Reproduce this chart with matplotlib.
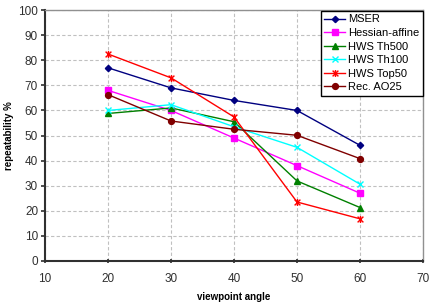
import numpy as np
import matplotlib
matplotlib.use('Agg')
import matplotlib.pyplot as plt
from matplotlib.path import Path

plt.rcParams['font.family'] = ['Liberation Sans', 'DejaVu Sans']

# viewpoint angles and repeatability per detector
angles = [20, 30, 40, 50, 60]
mser = [77.0, 69.0, 64.0, 60.0, 46.1]
hessian = [68.0, 60.0, 49.0, 38.0, 27.0]
hws_th500 = [58.8, 61.0, 55.5, 31.9, 21.3]
hws_th100 = [60.0, 62.3, 53.5, 45.3, 30.6]
hws_top50 = [82.5, 73.0, 57.4, 23.5, 16.8]
rec_ao25 = [66.3, 55.8, 52.5, 50.1, 40.8]

names = ['MSER', 'Hessian-affine', 'HWS Th500', 'HWS Th100', 'HWS Top50', 'Rec. AO25']
colors = ['#000080', '#ff00ff', '#008000', '#00ffff', '#ff0000', '#800000']

# excel-style star: x with a vertical bar
star = Path([(-1, -1), (1, 1), (-1, 1), (1, -1), (0, -1.2), (0, 1.2)],
            [Path.MOVETO, Path.LINETO, Path.MOVETO, Path.LINETO, Path.MOVETO, Path.LINETO])
markers = ['D', 's', '^', 'x', star, 'o']
msizes = [3.2, 4.2, 4.2, 4.5, 5, 4.2]

fig = plt.figure(figsize=(4.29, 3.07), dpi=100)
ax = fig.add_axes([0.105, 0.150, 0.881, 0.817])

series = [mser, hessian, hws_th500, hws_th100, hws_top50, rec_ao25]
for vals, name, c, m, ms in zip(series, names, colors, markers, msizes):
    ax.plot(angles, vals, color=c, marker=m, markersize=ms, lw=1.0,
            markeredgecolor=c, markerfacecolor=c, markeredgewidth=1.0, label=name)

ax.set_xlim(10, 70)
ax.set_ylim(0, 100)
ax.set_xticks(range(10, 71, 10))
ax.set_yticks(range(0, 101, 10))
ax.grid(True, color='#c0c0c0', linestyle=(0, (3, 2)), linewidth=0.8)
ax.set_axisbelow(True)

for s in ['top', 'right']:
    ax.spines[s].set_color('#909090')
    ax.spines[s].set_linewidth(1.0)
for s in ['left', 'bottom']:
    ax.spines[s].set_color('#303030')
    ax.spines[s].set_linewidth(1.5)

ax.tick_params(axis='both', labelsize=8.5, colors='#303030', length=3, width=1.2)
ax.tick_params(axis='x', direction='inout', pad=7)
ax.tick_params(axis='y', direction='out', pad=2)

ax.set_xlabel('viewpoint angle', fontsize=7, fontweight='bold', labelpad=5)
ax.set_ylabel('repeatability %', fontsize=7, fontweight='bold', labelpad=3)

leg = ax.legend(loc='upper right', bbox_to_anchor=(0.9995, 0.996), fontsize=8,
                frameon=True, fancybox=False, edgecolor='black', framealpha=1,
                handlelength=1.9, handletextpad=0.25, borderpad=0.3,
                labelspacing=0.32, borderaxespad=0)
leg.get_frame().set_linewidth(1.0)

fig.savefig('out.png', dpi=100)
